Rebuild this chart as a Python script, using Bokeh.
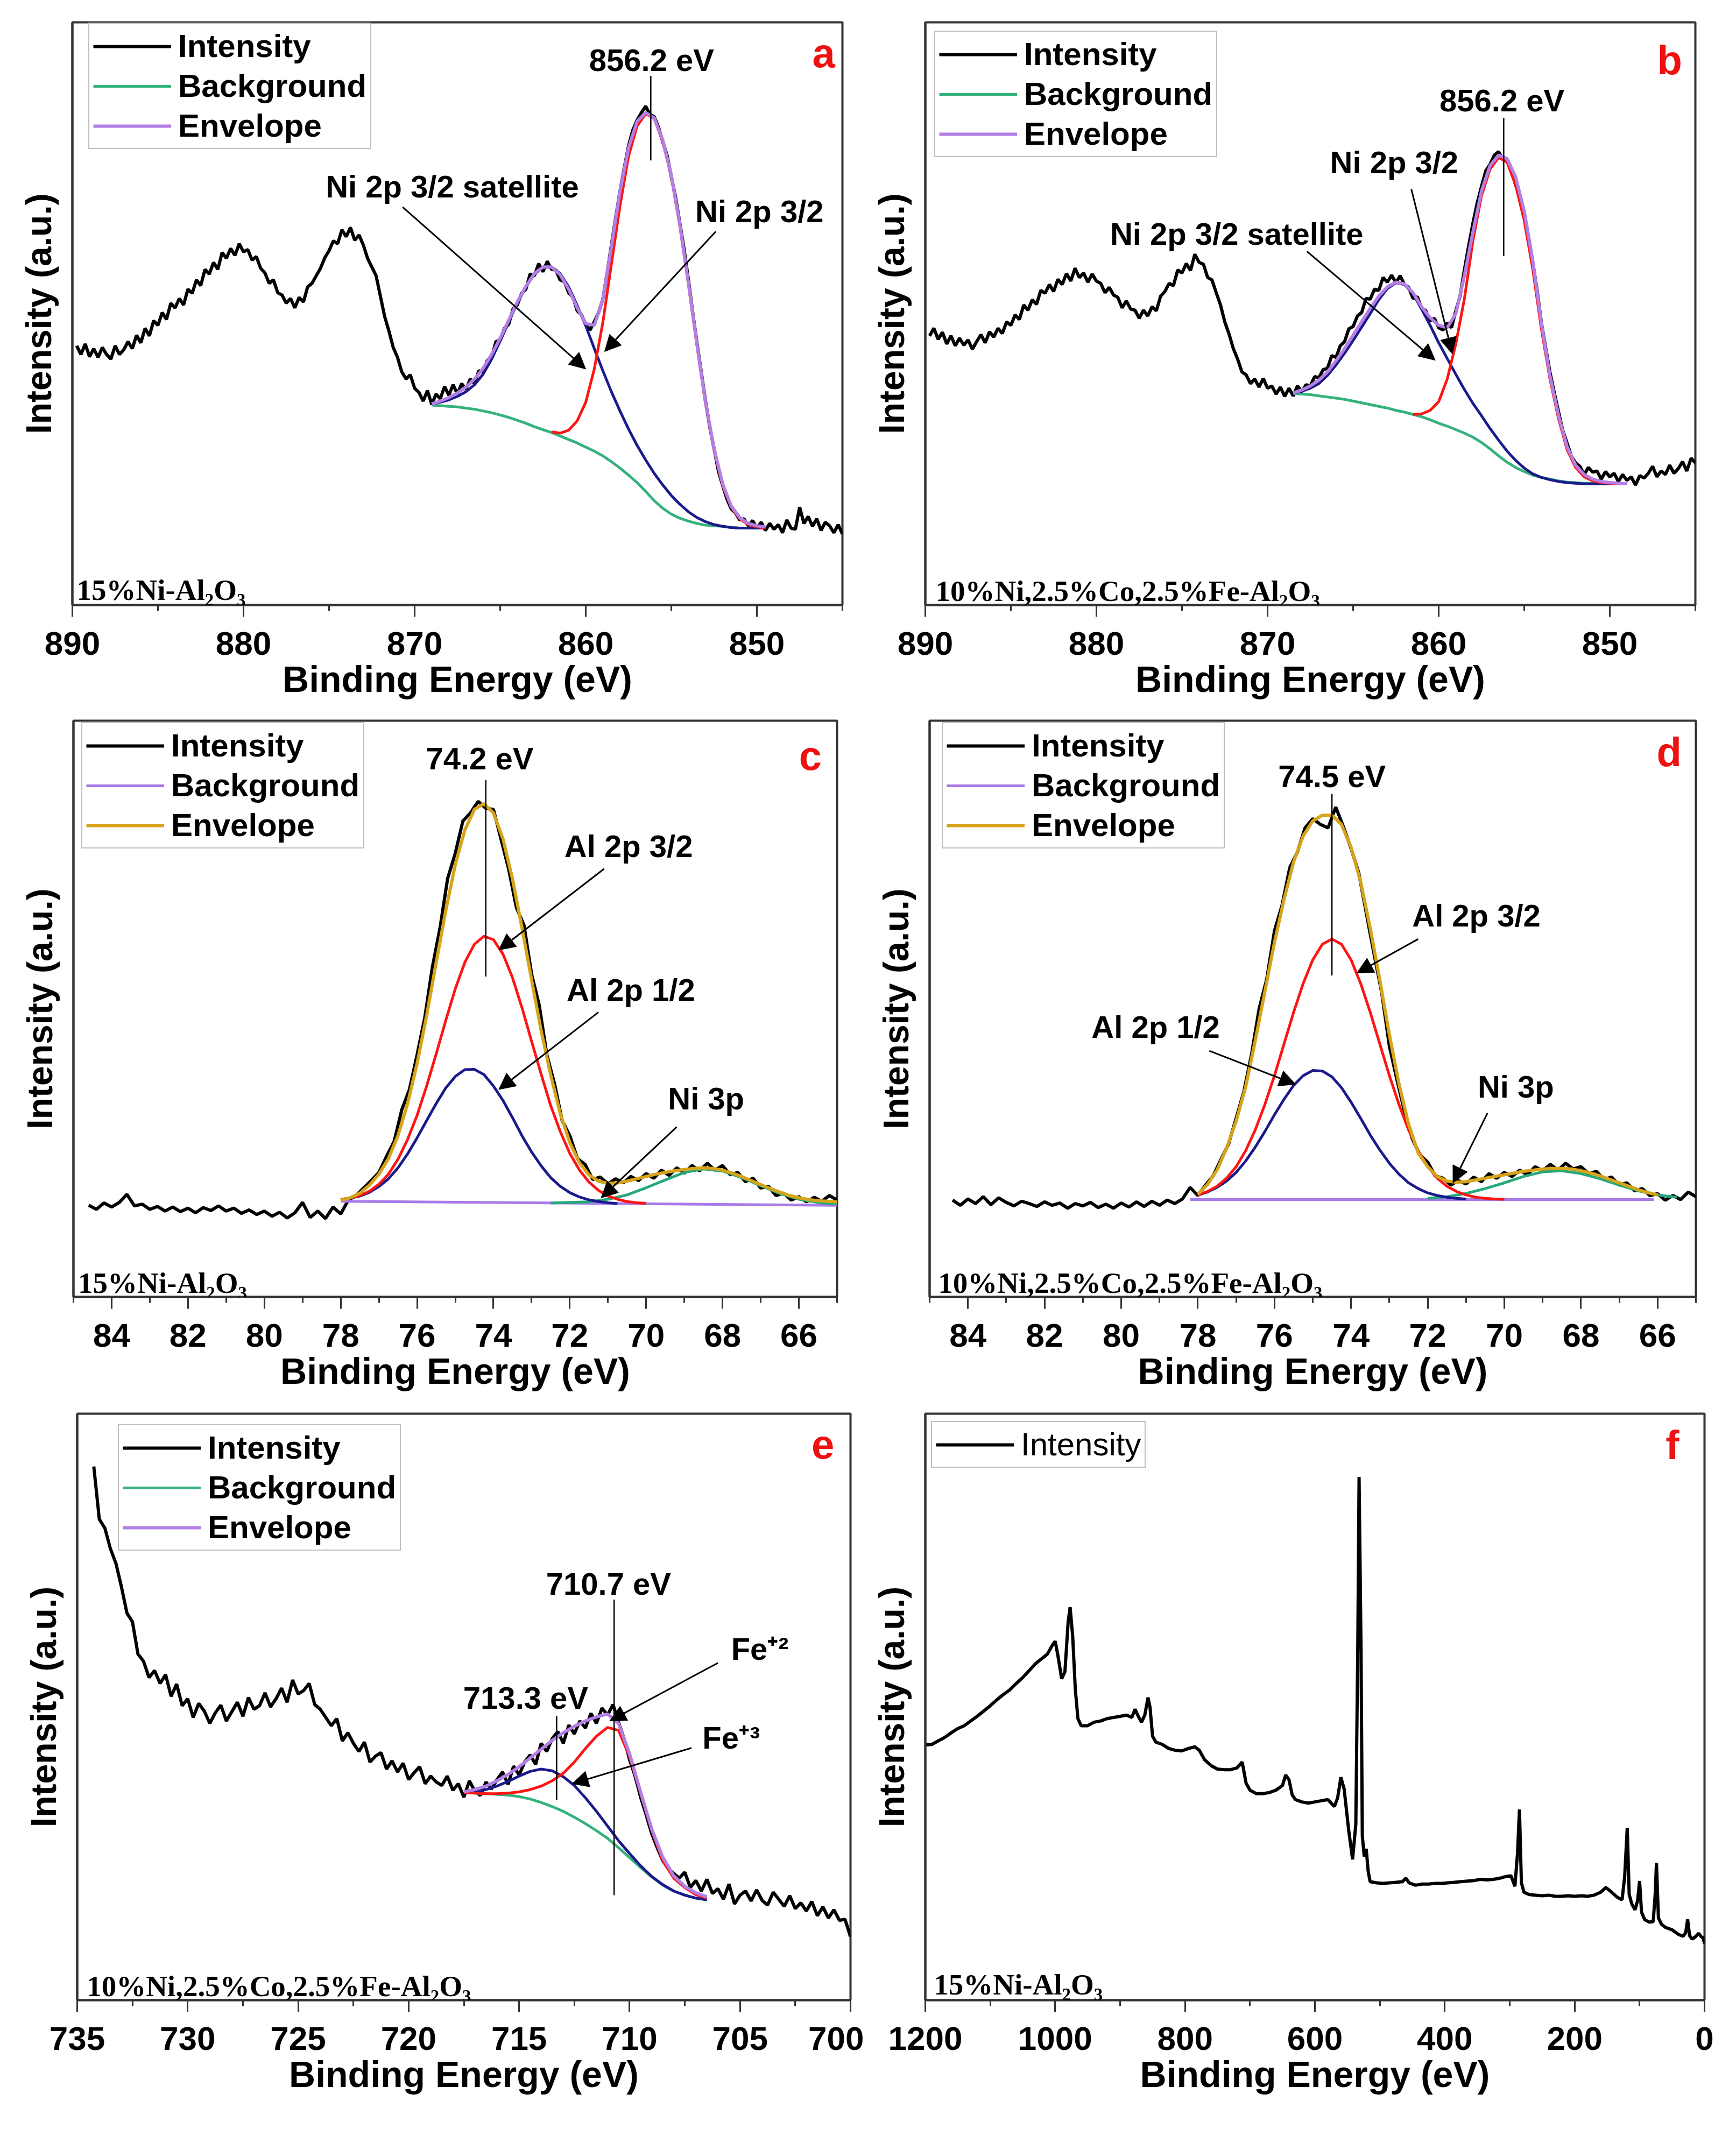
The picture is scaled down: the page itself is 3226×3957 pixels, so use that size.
import numpy as np
from bokeh.plotting import figure
from bokeh.models import Range1d, FixedTicker, Legend, LegendItem, Arrow, NormalHead, Label
from bokeh.layouts import column, row
from bokeh.embed import file_html
from bokeh.resources import INLINE
from bokeh.core.properties import value

SANS = "Liberation Sans"
SERIF = "Liberation Serif"
BLACK = "#000000"
GREEN = "#35b27c"
PURPLE = "#b47ee5"
RED = "#ff1414"
NAVY = "#1a1a8c"
GOLD = "#d6a41a"
LPURPLE = "#a77ae8"
TEAL = "#24a878"
LETTER_RED = "#ee1111"

# ---------------- Panel a: Ni 2p, 15%Ni-Al2O3 ----------------
a_int = [
    44.5, 43.0, 44.8, 42.6, 44.0, 42.5, 44.2, 43.0, 42.2, 44.5, 43.0, 43.8,
    45.2, 44.0, 46.3, 45.0, 47.5, 46.2, 48.8, 48.0, 50.2, 49.0, 51.8, 51.0,
    52.6, 51.5, 54.2, 53.5, 55.8, 54.8, 57.6, 56.8, 58.8, 57.6, 60.5, 59.5,
    61.2, 60.0, 62.0, 60.6, 61.0, 59.2, 59.8, 57.8, 57.0, 55.2, 55.8, 53.6,
    53.2, 51.8, 52.6, 51.0, 52.8, 52.0, 54.6, 55.2, 56.5, 57.8, 59.6, 60.8,
    62.5, 62.0, 64.4, 63.2, 64.8, 62.6, 63.5, 61.8, 59.5, 58.0, 56.5, 53.0,
    49.5, 47.0, 44.2, 42.5, 40.0, 38.8, 39.5, 37.2, 36.5, 35.0, 36.8, 34.4,
    36.2, 35.4, 37.5, 36.0, 37.8, 36.2, 38.0, 37.0, 38.8, 38.0, 40.2, 40.0,
    42.0, 42.5, 45.2, 45.5, 47.5, 48.2, 50.8, 51.5, 53.5, 54.2, 56.8, 56.5,
    58.6, 57.2, 59.0, 57.6, 57.5, 55.8, 55.5, 53.6, 52.8, 50.5, 49.8, 48.2,
    47.2, 48.6, 50.2, 52.5, 57.0, 61.8, 66.5, 71.0, 75.0, 78.8, 81.5, 83.2,
    84.5, 85.6, 84.2, 83.8, 82.0, 79.5, 77.2, 73.5, 70.0, 65.5, 61.0, 55.8,
    50.2, 45.0, 40.0, 35.0, 30.5, 26.8, 23.0, 20.5, 18.2, 16.5, 15.8, 14.6,
    14.8, 13.6, 14.5, 13.2, 14.2, 12.8, 14.0, 13.0, 13.8, 12.4, 14.6, 13.2,
    13.0, 16.8, 14.0, 15.2, 13.5, 14.8, 12.8, 14.2, 13.6, 12.4, 13.8, 12.2,
]
a_int_range = (889.75, 845.0)
a_fit_range = (869.0, 849.5)
a_bg = [34.3, 34.2, 34.1, 34.0, 33.8, 33.6, 33.3, 33.0, 32.6, 32.2, 31.7, 31.2,
        30.6, 30.1, 29.6, 29.0, 28.4, 27.8, 27.1, 26.4, 25.6, 24.6, 23.5, 22.3,
        21.0, 19.5, 17.9, 16.6, 15.6, 14.9, 14.4, 14.0, 13.7, 13.6, 13.5, 13.3,
        13.2, 13.2, 13.2, 13.2]
a_sat = [34.5, 34.8, 35.2, 35.8, 36.6, 37.8, 39.6, 42.2, 45.3, 48.6, 51.8, 54.6,
         56.8, 57.9, 58.0, 56.9, 54.6, 51.4, 47.9, 44.0, 40.2, 36.6, 33.3, 30.2,
         27.4, 24.9, 22.6, 20.6, 18.8, 17.3, 16.0, 15.0, 14.3, 13.8, 13.5, 13.3,
         13.2, 13.2, 13.2, 13.2]
a_main_range = (862.0, 849.5)
a_main = [29.7, 29.5, 30.0, 31.6, 34.8, 40.5, 48.5, 58.5, 68.5, 77.0, 82.2, 84.3,
          83.5, 79.5, 73.5, 65.0, 55.0, 44.5, 34.5, 26.5, 20.5, 16.8, 14.8, 13.8,
          13.4, 13.2]
a_env = [34.5, 35.0, 35.6, 36.4, 37.4, 38.8, 40.6, 43.0, 45.8, 48.9, 52.0, 54.7,
         56.9, 58.0, 58.0, 56.7, 54.2, 51.0, 48.3, 48.0, 52.5, 61.5, 71.0, 78.5,
         83.0, 84.5, 83.6, 79.8, 73.8, 65.3, 55.3, 44.8, 34.8, 26.8, 20.8, 17.0,
         15.0, 14.0, 13.6, 13.4]

# ---------------- Panel b: Ni 2p, trimetallic ----------------
b_int = [
    46.2, 47.5, 45.6, 46.8, 44.8, 46.2, 44.5, 45.8, 44.6, 45.5, 43.9, 45.2,
    46.4, 45.0, 46.9, 46.0, 47.5, 46.6, 48.6, 48.0, 49.8, 49.0, 51.5, 50.6,
    52.4, 51.6, 54.0, 53.5, 55.0, 53.8, 55.9, 55.0, 56.9, 55.6, 57.8, 56.2,
    57.0, 55.4, 56.8, 55.6, 55.2, 53.6, 54.5, 53.2, 52.8, 51.0, 52.2, 50.8,
    50.6, 49.2, 50.6, 49.6, 51.2, 50.5, 53.0, 53.8, 55.2, 54.8, 57.5, 57.0,
    58.6, 57.4, 60.2, 58.8, 58.5, 56.2, 55.8, 53.6, 51.5, 48.6, 46.5, 44.0,
    42.2, 40.0, 39.5, 38.0, 38.8, 37.4, 38.9, 37.2, 37.6, 36.2, 37.4, 35.8,
    37.2, 35.9, 37.6, 36.6, 37.8, 37.6, 39.2, 39.0, 40.4, 40.6, 42.8, 42.5,
    44.5, 45.2, 47.4, 47.8, 49.6, 50.2, 52.6, 52.5, 54.2, 54.0, 56.2, 55.4,
    56.6, 55.3, 56.5, 55.0, 54.5, 52.6, 52.9, 51.0, 50.5, 48.8, 49.2, 47.6,
    47.2, 48.4, 47.6, 50.5, 53.0, 57.5, 61.6, 65.5, 69.0, 71.8, 74.5, 75.6,
    77.2, 77.8, 76.5, 76.2, 74.6, 72.0, 70.2, 66.8, 63.2, 58.8, 54.0, 48.5,
    44.2, 40.0, 36.5, 33.2, 30.0, 27.8, 25.6, 24.4, 23.8, 22.4, 23.6, 22.8,
    23.0, 21.6, 22.9, 22.0, 22.6, 21.2, 22.4, 21.4, 22.0, 20.6, 22.2, 21.8,
    22.6, 23.8, 22.0, 23.0, 22.4, 24.0, 22.6, 23.4, 24.6, 23.0, 25.2, 24.4,
]
b_int_range = (889.75, 845.0)
b_fit_range = (868.5, 849.0)
b_bg = [36.3, 36.2, 36.1, 35.9, 35.7, 35.5, 35.3, 35.0, 34.7, 34.4, 34.1, 33.8,
        33.4, 33.1, 32.7, 32.3, 31.8, 31.2, 30.7, 30.1, 29.5, 28.8, 27.9, 26.8,
        25.6, 24.5, 23.6, 22.9, 22.3, 21.9, 21.6, 21.3, 21.1, 21.0, 20.9, 20.9,
        20.8, 20.8, 20.8, 20.8]
b_sat = [36.4, 36.7, 37.2, 38.0, 39.4, 41.2, 43.2, 45.4, 47.7, 50.0, 52.4, 54.3,
         55.3, 55.0, 53.4, 50.8, 48.0, 45.0, 42.3, 39.6, 37.0, 34.6, 32.5, 30.3,
         28.3, 26.4, 24.8, 23.5, 22.5, 21.9, 21.5, 21.2, 21.0, 20.9, 20.8, 20.8,
         20.8, 20.8, 20.8, 20.8]
b_main_range = (861.5, 849.0)
b_main = [32.7, 32.8, 33.4, 34.9, 38.8, 44.8, 52.5, 62.5, 70.2, 74.8, 76.8, 76.0,
          72.0, 66.0, 57.6, 47.4, 38.8, 32.0, 26.7, 23.6, 22.0, 21.3, 21.0, 20.9,
          20.8, 20.8]
b_env = [36.4, 36.9, 37.6, 38.6, 40.0, 41.9, 44.0, 46.3, 48.6, 50.9, 53.0, 54.6,
         55.4, 55.1, 53.6, 51.2, 49.3, 48.0, 47.6, 50.0, 56.5, 64.0, 71.0, 75.4,
         77.2, 76.6, 73.4, 67.6, 59.0, 48.4, 39.4, 32.6, 27.2, 24.0, 22.4, 21.6,
         21.2, 21.0, 20.9, 20.8]

# ---------------- Panel c: Al 2p, 15%Ni-Al2O3 ----------------
c_int = [
    15.9, 15.2, 16.3, 15.6, 16.4, 17.8, 15.8, 16.1, 15.2, 15.7,
    14.9, 15.6, 14.8, 15.4, 14.6, 15.5, 15.0, 15.8, 14.9, 15.4,
    14.5, 15.1, 14.3, 14.9, 14.0, 14.7, 13.7, 14.6, 16.4, 13.8,
    14.9, 13.6, 15.6, 14.4, 16.8, 17.6, 18.9, 20.2, 21.6, 24.4,
    27.0, 32.5, 36.0, 42.0, 48.4, 57.2, 64.0, 72.6, 77.0, 82.6,
    84.0, 86.0, 84.8, 84.6, 79.4, 74.2, 67.6, 64.5, 56.0, 50.6,
    42.0, 37.0, 30.6, 28.0, 24.0, 23.0, 20.4, 20.8, 19.6, 20.5,
    19.8, 20.9, 20.2, 21.4, 20.6, 22.0, 21.1, 22.4, 21.5, 22.8,
    21.9, 23.2, 22.0, 22.8, 21.2, 21.6, 20.0, 20.6, 18.9, 19.2,
    17.6, 18.0, 16.8, 17.4, 16.5, 17.3, 16.6, 17.6, 16.8,
]
c_int_range = (84.6, 65.0)
c_env_range = (78.0, 65.0)
c_env = [16.8, 17.2, 18.0, 19.4, 21.3, 24.0, 28.0, 33.5, 40.5, 48.8, 58.0, 67.0,
         75.0, 81.0, 84.6, 85.6, 84.0, 79.5, 72.5, 64.0, 55.0, 46.2, 38.5, 31.8,
         26.8, 23.3, 21.2, 20.1, 19.7, 19.8, 20.1, 20.5, 20.9, 21.3, 21.6, 21.9,
         22.1, 22.3, 22.4, 22.3, 22.0, 21.5, 20.9, 20.2, 19.5, 18.8, 18.2, 17.6,
         17.2, 16.9, 16.7, 16.6, 16.5]
c_p32_range = (78.0, 70.0)
c_p32 = [16.9, 17.2, 17.6, 18.35, 19.55, 21.3, 23.9, 27.3, 31.5, 36.6, 42.15,
         47.95, 53.45, 58.05, 61.2, 62.6, 62.0, 59.5, 55.4, 50.15, 44.35, 38.65,
         33.2, 28.7, 24.9, 22.05, 19.95, 18.5, 17.5, 16.95, 16.55, 16.35, 16.25]
c_p12_range = (78.0, 70.75)
c_p12 = [16.9, 17.15, 17.5, 18.15, 19.15, 20.5, 22.4, 24.8, 27.6, 30.6, 33.55,
         36.25, 38.25, 39.45, 39.5, 38.6, 36.6, 34.1, 31.1, 27.95, 25.15, 22.75,
         20.7, 19.2, 18.1, 17.35, 16.85, 16.55, 16.35, 16.2]
c_ni_range = (72.5, 65.0)
c_ni = [16.3, 16.4, 16.5, 16.95, 17.7, 18.95, 20.3, 21.6, 22.2, 21.85, 20.7, 19.3,
        17.95, 16.95, 16.4, 16.1]
c_bg_x = [78.0, 65.0]
c_bg = [16.6, 15.9]

# ---------------- Panel d: Al 2p, trimetallic ----------------
d_int = [
    16.8, 15.9, 17.0, 16.2, 17.4, 16.0, 17.2, 16.4, 15.8, 16.6,
    16.2, 15.7, 16.5, 15.9, 16.3, 15.4, 16.2, 15.8, 16.4, 15.5,
    16.1, 15.4, 16.3, 15.6, 16.5, 15.7, 16.6, 15.9, 16.8, 16.2,
    17.0, 19.0, 17.6, 19.4, 21.0, 23.8, 26.5, 31.0, 35.6, 42.0,
    50.0, 55.2, 63.5, 68.0, 74.5, 77.2, 81.4, 83.0, 82.0, 81.4,
    85.0, 81.6, 77.8, 73.6, 66.5, 59.5, 52.8, 43.5, 37.6, 32.0,
    27.4, 24.6, 23.4, 21.0, 20.6, 19.4, 20.2, 19.6, 20.8, 20.0,
    21.4, 20.6, 21.6, 20.9, 22.0, 21.2, 22.6, 21.9, 23.0, 22.0,
    23.2, 22.2, 22.6, 21.4, 21.8, 20.4, 20.8, 19.4, 19.8, 18.4,
    18.8, 17.6, 17.9, 16.8, 17.6, 16.9, 18.2, 17.4,
]
d_int_range = (84.4, 65.0)
d_env_range = (78.0, 66.0)
d_env = [17.8, 19.5, 22.0, 25.8, 30.5, 36.5, 44.5, 53.0, 61.5, 69.0, 75.5, 80.0,
         82.6, 83.6, 83.6, 82.0, 78.0, 72.0, 64.0, 55.0, 45.5, 37.0, 30.0, 25.0,
         22.6, 20.9, 20.1, 19.9, 20.0, 20.3, 20.6, 20.9, 21.2, 21.5, 21.8, 22.0,
         22.2, 22.3, 22.3, 22.2, 21.9, 21.5, 21.0, 20.4, 19.8, 19.2, 18.6, 18.1,
         17.7]
d_p32_range = (78.0, 70.0)
d_p32 = [17.7, 18.3, 19.2, 20.6, 22.6, 25.4, 29.0, 33.4, 38.4, 43.9, 49.4, 54.4,
         58.5, 61.2, 62.1, 61.2, 58.5, 54.4, 49.4, 43.9, 38.4, 33.4, 29.0, 25.4,
         22.6, 20.6, 19.2, 18.3, 17.7, 17.3, 17.1, 17.0, 16.95]
d_p12_range = (78.0, 71.0)
d_p12 = [17.65, 18.2, 19.0, 20.1, 21.6, 23.6, 26.0, 28.7, 31.6, 34.3, 36.7, 38.4,
         39.3, 39.2, 38.2, 36.3, 33.8, 31.0, 28.1, 25.5, 23.2, 21.3, 19.8, 18.8,
         18.05, 17.6, 17.3, 17.1, 17.0]
d_ni_range = (72.0, 65.5)
d_ni = [17.1, 17.4, 17.95, 18.8, 19.8, 20.9, 21.7, 21.9, 21.4, 20.5, 19.4, 18.4,
        17.7, 17.3]
d_bg_x = [78.2, 66.1]
d_bg = [16.9, 16.9]

# ---------------- Panel e: Fe 2p, trimetallic ----------------
e_int = [
    91.0, 82.0, 80.5, 77.0, 74.5, 70.5, 66.0, 64.5,
    59.0, 57.8, 55.0, 56.2, 54.0, 55.5, 51.8, 53.9,
    50.2, 51.4, 48.2, 50.6, 49.3, 47.2, 49.0, 50.3,
    47.6, 49.2, 50.8, 48.4, 51.6, 49.6, 50.2, 52.4,
    50.0, 51.4, 53.2, 50.8, 54.6, 52.2, 52.8, 54.0,
    50.4, 49.6, 48.2, 46.8, 48.0, 44.2, 45.6, 43.8,
    42.4, 44.0, 40.6, 41.6, 42.2, 39.4, 40.8, 38.9,
    40.4, 37.6, 38.8, 39.8, 36.9, 38.2, 37.2, 36.6,
    38.2, 35.8, 36.9, 34.6, 37.4, 35.6, 34.9, 37.2,
    36.0, 37.6, 38.9, 36.8, 39.9, 38.4, 40.6, 41.8,
    40.2, 43.8, 42.4, 44.6, 45.8, 43.8, 46.9, 45.4,
    47.6, 46.4, 48.9, 47.2, 49.8, 48.6, 50.4, 47.4,
    44.6, 41.0, 38.2, 34.6, 31.6, 28.4, 26.0, 23.8,
    22.4, 21.6, 20.8, 21.8, 19.2, 20.4, 18.6, 20.6,
    18.2, 19.0, 17.2, 19.8, 16.4, 17.9, 18.6, 16.9,
    18.8, 17.0, 16.2, 18.4, 17.2, 16.0, 17.8, 15.6,
    16.6, 15.2, 16.8, 14.4, 15.9, 14.0, 15.4, 13.6,
    13.8, 10.8,
]
e_int_range = (734.25, 700.0)
e_fit_range = (717.5, 706.5)
e_bg = [35.4, 35.3, 35.2, 35.1, 34.95, 34.7, 34.3, 33.7, 33.0, 32.2, 31.2, 30.1,
        28.9, 27.6, 26.0, 24.3, 22.6, 21.0, 19.6, 18.6, 17.9, 17.4, 17.1]
e_fe3 = [35.5, 35.6, 35.9, 36.5, 37.3, 38.2, 39.0, 39.4, 39.1, 38.1, 36.6, 34.5,
         32.2, 29.7, 27.2, 25.0, 22.9, 21.1, 19.7, 18.6, 17.9, 17.4, 17.1]
e_fe2 = [35.4, 35.3, 35.2, 35.2, 35.3, 35.5, 35.9, 36.5, 37.4, 38.7, 40.6, 42.9,
         45.0, 46.5, 46.0, 41.5, 35.3, 29.0, 23.8, 20.8, 19.2, 18.0, 17.4]
e_env = [35.5, 35.9, 36.5, 37.4, 38.5, 39.8, 41.3, 42.8, 44.3, 45.6, 46.7, 47.6,
         48.3, 48.8, 47.2, 42.0, 35.5, 29.2, 24.4, 21.2, 19.4, 18.3, 17.6]

# ---------------- Panel f: survey, 15%Ni-Al2O3 ----------------
f_energy = [1200, 1190, 1180, 1170, 1160, 1150, 1140, 1130, 1120, 1110, 1100, 1090,
            1080, 1070, 1060, 1050, 1040, 1030, 1020, 1012, 1005, 1000, 996, 990,
            985, 980, 977, 973, 969, 965, 960, 950, 940, 930, 920, 910, 900, 890,
            882, 877, 872, 867, 862, 857, 854, 850, 845, 835, 825, 815, 805, 795,
            785, 778, 770, 760, 750, 740, 730, 720, 712, 706, 700, 690, 680, 670,
            660, 650, 645, 640, 635, 630, 620, 610, 600, 590, 580, 575, 570, 565,
            560, 555, 548, 542, 537, 534, 532, 529, 527, 524, 521, 518, 515, 505,
            495, 485, 475, 465, 460, 455, 445, 435, 425, 415, 405, 395, 385, 375,
            365, 355, 345, 335, 325, 315, 305, 298, 292, 288, 285, 282, 278, 270,
            260, 250, 240, 230, 220, 210, 200, 190, 180, 170, 160, 152, 145, 135,
            127, 123, 119, 116, 112, 107, 103, 100, 97, 92, 85, 79, 76, 74, 71, 66,
            60, 50, 40, 33, 29, 26, 23, 19, 14, 9, 5, 2, 0]
f_int = [43.5, 43.6, 44.2, 44.8, 45.6, 46.3, 46.8, 47.6, 48.4, 49.3, 50.2, 51.2,
         52.1, 52.9, 54.0, 55.0, 56.2, 57.4, 58.3, 59.0, 60.4, 61.2, 58.9, 54.8,
         56.0, 64.5, 67.0, 62.0, 53.0, 48.0, 46.8, 46.8, 47.4, 47.6, 48.0, 48.2, 48.4, 48.6,
         48.2, 49.6, 48.4, 47.4, 48.6, 51.6, 50.0, 45.0, 44.0, 43.6, 42.9, 42.6, 42.5, 42.9,
         43.2, 42.6, 41.0, 40.0, 39.4, 39.3, 39.3, 39.6, 40.6, 37.0, 35.8, 35.2, 35.2, 35.4,
         35.8, 36.6, 38.4, 37.6, 35.0, 34.2, 33.8, 33.6, 33.8, 34.0, 34.2, 33.6, 33.0, 34.5,
         38.0, 36.0, 29.0, 24.0, 30.0, 60.0, 89.2, 60.0, 28.0, 24.5, 25.8, 22.0, 20.2, 20.0,
         19.9, 20.0, 20.1, 20.2, 20.8, 20.0, 19.6, 19.8, 19.8, 19.9, 19.9, 20.0, 20.1, 20.2,
         20.3, 20.4, 20.6, 20.5, 20.6, 20.8, 21.1, 21.2, 19.4, 25.0, 32.5, 20.0, 18.4, 18.0,
         17.9, 17.8, 17.9, 17.7, 17.7, 17.8, 17.7, 17.8, 17.7, 17.9, 18.4, 19.2, 18.6, 17.6,
         17.1, 21.0, 29.4, 18.0, 16.4, 15.4, 17.0, 20.3, 15.0, 13.7, 13.3, 13.4, 18.0, 23.4, 14.0, 12.9,
         12.4, 12.0, 11.2, 10.9, 11.5, 13.8, 11.0, 10.4, 10.8, 11.4, 10.8, 10.6, 9.6]

# ---------------- axes / labels ----------------
ticks_ni = [890, 880, 870, 860, 850]
minor_ni = [885, 875, 865, 855, 845]
ticks_al = [84, 82, 80, 78, 76, 74, 72, 70, 68, 66]
minor_al = [85, 83, 81, 79, 77, 75, 73, 71, 69, 67, 65]
ticks_fe = [735, 730, 725, 720, 715, 710, 705, 700]
minor_fe = [732.5, 727.5, 722.5, 717.5, 712.5, 707.5, 702.5]
ticks_sv = [1200, 1000, 800, 600, 400, 200, 0]
minor_sv = [1100, 900, 700, 500, 300, 100]

SAMPLE_A = "15%Ni-Al\u2082O\u2083"
SAMPLE_B = "10%Ni,2.5%Co,2.5%Fe-Al\u2082O\u2083"

LW_DATA = 6
LW_COMP = 5
LW_ENV = 6


def grid(rng, n):
    return np.linspace(rng[0], rng[1], n)


def make_fig(xr, ticks, minor, frame, borders):
    fw, fh = frame
    l, r, t, b = borders
    p = figure(width=l + fw + r, height=t + fh + b,
               x_range=Range1d(xr[0], xr[1]), y_range=Range1d(0, 100),
               output_backend="svg", toolbar_location=None,
               min_border_left=l, min_border_right=r,
               min_border_top=t, min_border_bottom=b)
    p.xgrid.visible = False
    p.ygrid.visible = False
    p.background_fill_color = "white"
    p.border_fill_color = "white"
    p.outline_line_color = "#333333"
    p.outline_line_width = 4
    p.outline_line_alpha = 1.0
    xa = p.xaxis[0]
    xa.ticker = FixedTicker(ticks=ticks, minor_ticks=minor)
    xa.axis_line_width = 4
    xa.axis_line_color = "#333333"
    xa.major_tick_line_width = 3
    xa.major_tick_line_color = "#333333"
    xa.major_tick_out = 22
    xa.major_tick_in = 0
    xa.minor_tick_line_width = 3
    xa.minor_tick_line_color = "#333333"
    xa.minor_tick_out = 11
    xa.minor_tick_in = 0
    xa.major_label_text_font = SANS
    xa.major_label_text_font_size = "62px"
    xa.major_label_text_font_style = "bold"
    xa.major_label_text_color = BLACK
    xa.major_label_standoff = 28
    xa.axis_label = "Binding Energy (eV)"
    xa.axis_label_text_font = SANS
    xa.axis_label_text_font_size = "68px"
    xa.axis_label_text_font_style = "bold"
    xa.axis_label_text_color = BLACK
    xa.axis_label_standoff = 4
    ya = p.yaxis[0]
    ya.ticker = FixedTicker(ticks=[])
    ya.axis_line_width = 4
    ya.axis_line_color = "#333333"
    ya.major_tick_out = 0
    ya.major_tick_in = 0
    ya.minor_tick_out = 0
    ya.minor_tick_in = 0
    ya.axis_label = "Intensity (a.u.)"
    ya.axis_label_text_font = SANS
    ya.axis_label_text_font_size = "66px"
    ya.axis_label_text_font_style = "bold"
    ya.axis_label_text_color = BLACK
    ya.axis_label_standoff = 26
    return p


def add_legend(p, entries, loc, style="bold"):
    items = [LegendItem(label=value(lbl), renderers=[rend]) for lbl, rend in entries]
    leg = Legend(items=items, location=loc,
                 label_text_font=SANS, label_text_font_size="60px",
                 label_text_font_style=style, label_text_color=BLACK,
                 glyph_width=145, glyph_height=66, label_height=66,
                 label_standoff=13, spacing=5, padding=7, margin=0,
                 border_line_color="#7f7f7f", border_line_width=2,
                 background_fill_color="white", background_fill_alpha=1.0)
    p.add_layout(leg)


def add_notes(p, notes, arrows, marks, letter, sample):
    for txt, x, y in notes:
        p.add_layout(Label(x=x, y=y, text=txt, text_font=SANS, text_font_size="58px",
                           text_font_style="bold", text_color=BLACK,
                           text_align="center", text_baseline="middle"))
    for xs, ys, xe, ye in arrows:
        p.add_layout(Arrow(end=NormalHead(size=30, fill_color=BLACK, line_color=BLACK, line_width=1),
                           x_start=xs, y_start=ys, x_end=xe, y_end=ye,
                           line_color=BLACK, line_width=3))
    if marks:
        p.segment(x0=[m[0] for m in marks], y0=[m[1] for m in marks],
                  x1=[m[0] for m in marks], y1=[m[2] for m in marks],
                  line_color=BLACK, line_width=2.5)
    lt, lx, ly = letter
    p.add_layout(Label(x=lx, y=ly, text=lt, text_font=SANS, text_font_size="76px",
                       text_font_style="bold", text_color=LETTER_RED,
                       text_align="center", text_baseline="middle"))
    st, sx, sy = sample
    p.add_layout(Label(x=sx, y=sy, text=st, text_font=SERIF, text_font_size="55px",
                       text_font_style="bold", text_color=BLACK,
                       text_align="left", text_baseline="alphabetic"))


# ---------------- panel a ----------------
pa = make_fig((890, 845), ticks_ni, minor_ni, (1431, 1085), (134, 40, 39, 190))
ra_i = pa.line(grid(a_int_range, len(a_int)), a_int, line_color=BLACK, line_width=LW_DATA)
ra_b = pa.line(grid(a_fit_range, len(a_bg)), a_bg, line_color=GREEN, line_width=LW_COMP)
pa.line(grid(a_fit_range, len(a_sat)), a_sat, line_color=NAVY, line_width=LW_COMP)
pa.line(grid(a_main_range, len(a_main)), a_main, line_color=RED, line_width=LW_COMP)
ra_e = pa.line(grid(a_fit_range, len(a_env)), a_env, line_color=PURPLE, line_width=LW_ENV)
add_legend(pa, [("Intensity", ra_i), ("Background", ra_b), ("Envelope", ra_e)], (30, 847))
add_notes(pa,
          [("856.2 eV", 856.15, 93.5), ("Ni 2p 3/2 satellite", 867.8, 71.8), ("Ni 2p 3/2", 849.85, 67.6)],
          [(870.7, 68.3, 860.0, 40.5), (852.4, 64.1, 858.9, 43.5)],
          [(856.2, 90.8, 76.3)],
          ("a", 846.1, 94.7), (SAMPLE_A, 889.75, 2.6))

# ---------------- panel b ----------------
pb = make_fig((890, 845), ticks_ni, minor_ni, (1431, 1083), (114, 60, 41, 190))
rb_i = pb.line(grid(b_int_range, len(b_int)), b_int, line_color=BLACK, line_width=LW_DATA)
rb_b = pb.line(grid(b_fit_range, len(b_bg)), b_bg, line_color=GREEN, line_width=LW_COMP)
pb.line(grid(b_fit_range, len(b_sat)), b_sat, line_color=NAVY, line_width=LW_COMP)
pb.line(grid(b_main_range, len(b_main)), b_main, line_color=RED, line_width=LW_COMP)
rb_e = pb.line(grid(b_fit_range, len(b_env)), b_env, line_color=PURPLE, line_width=LW_ENV)
add_legend(pb, [("Intensity", rb_i), ("Background", rb_b), ("Envelope", rb_e)], (17, 832))
add_notes(pb,
          [("856.2 eV", 856.3, 86.6), ("Ni 2p 3/2", 862.6, 76.0), ("Ni 2p 3/2 satellite", 871.8, 63.7)],
          [(861.6, 71.4, 859.2, 43.1), (867.7, 60.7, 860.2, 42.0)],
          [(856.2, 83.6, 59.9)],
          ("b", 846.5, 93.5), (SAMPLE_B, 889.4, 2.4))

# ---------------- panel c ----------------
pc = make_fig((85, 65), ticks_al, minor_al, (1419, 1075), (136, 50, 25, 190))
rc_i = pc.line(grid(c_int_range, len(c_int)), c_int, line_color=BLACK, line_width=LW_DATA)
rc_b = pc.line(c_bg_x, c_bg, line_color=LPURPLE, line_width=LW_COMP)
pc.line(grid(c_ni_range, len(c_ni)), c_ni, line_color=TEAL, line_width=LW_COMP)
pc.line(grid(c_p12_range, len(c_p12)), c_p12, line_color=NAVY, line_width=LW_COMP)
pc.line(grid(c_p32_range, len(c_p32)), c_p32, line_color=RED, line_width=LW_COMP)
rc_e = pc.line(grid(c_env_range, len(c_env)), c_env, line_color=GOLD, line_width=LW_ENV)
add_legend(pc, [("Intensity", rc_i), ("Background", rc_b), ("Envelope", rc_e)], (15, 833))
add_notes(pc,
          [("74.2 eV", 74.36, 93.5), ("Al 2p 3/2", 70.46, 78.2), ("Al 2p 1/2", 70.4, 53.3), ("Ni 3p", 68.43, 34.5)],
          [(71.1, 74.3, 73.86, 60.2), (71.25, 49.4, 73.86, 36.0), (69.2, 29.5, 71.18, 17.2)],
          [(74.2, 89.7, 55.6)],
          ("c", 65.7, 93.9), (SAMPLE_A, 84.88, 2.4))

# ---------------- panel d ----------------
pd_ = make_fig((85, 65), ticks_al, minor_al, (1424, 1073), (122, 59, 23, 194))
rd_i = pd_.line(grid(d_int_range, len(d_int)), d_int, line_color=BLACK, line_width=LW_DATA)
rd_b = pd_.line(d_bg_x, d_bg, line_color=LPURPLE, line_width=LW_COMP)
pd_.line(grid(d_ni_range, len(d_ni)), d_ni, line_color=TEAL, line_width=LW_COMP)
pd_.line(grid(d_p12_range, len(d_p12)), d_p12, line_color=NAVY, line_width=LW_COMP)
pd_.line(grid(d_p32_range, len(d_p32)), d_p32, line_color=RED, line_width=LW_COMP)
rd_e = pd_.line(grid(d_env_range, len(d_env)), d_env, line_color=GOLD, line_width=LW_ENV)
add_legend(pd_, [("Intensity", rd_i), ("Background", rd_b), ("Envelope", rd_e)], (23, 833))
add_notes(pd_,
          [("74.5 eV", 74.5, 90.4), ("Al 2p 3/2", 70.73, 66.2), ("Al 2p 1/2", 79.1, 46.9), ("Ni 3p", 69.7, 36.5)],
          [(72.25, 62.1, 73.85, 56.2), (77.7, 42.7, 75.45, 36.9), (70.44, 31.9, 71.34, 19.8)],
          [(74.5, 87.3, 55.8)],
          ("d", 65.7, 94.6), (SAMPLE_B, 84.78, 2.4))

# ---------------- panel e ----------------
pe = make_fig((735, 700), ticks_fe, minor_fe, (1437, 1090), (143, 25, 23, 220))
re_i = pe.line(grid(e_int_range, len(e_int)), e_int, line_color=BLACK, line_width=LW_DATA)
re_b = pe.line(grid(e_fit_range, len(e_bg)), e_bg, line_color=GREEN, line_width=LW_COMP)
pe.line(grid(e_fit_range, len(e_fe3)), e_fe3, line_color=NAVY, line_width=LW_COMP)
pe.line(grid(e_fit_range, len(e_fe2)), e_fe2, line_color=RED, line_width=LW_COMP)
re_e = pe.line(grid(e_fit_range, len(e_env)), e_env, line_color=PURPLE, line_width=LW_ENV)
add_legend(pe, [("Intensity", re_i), ("Background", re_b), ("Envelope", re_e)], (76, 835))
add_notes(pe,
          [("710.7 eV", 710.95, 71.0), ("713.3 eV", 714.7, 51.6), ("Fe\u207a\u00b2", 704.1, 59.9), ("Fe\u207a\u00b3", 705.4, 44.8)],
          [(706.0, 57.5, 710.9, 47.6), (707.2, 43.0, 712.6, 36.9)],
          [(710.7, 68.3, 17.9), (713.3, 48.4, 34.1)],
          ("e", 701.25, 94.8), (SAMPLE_B, 734.57, 2.4))

# ---------------- panel f ----------------
pf = make_fig((1200, 0), ticks_sv, minor_sv, (1448, 1100), (114, 43, 16, 217))
rf_i = pf.line(f_energy, f_int, line_color=BLACK, line_width=LW_DATA)
add_legend(pf, [("Intensity", rf_i)], (11, 989), style="normal")
add_notes(pf, [], [], [], ("f", 49.4, 94.7), (SAMPLE_A, 1187, 2.7))

layout = column(row(pa, pb), row(pc, pd_), row(pe, pf))
open("out.html", "w").write(file_html(layout, INLINE))
